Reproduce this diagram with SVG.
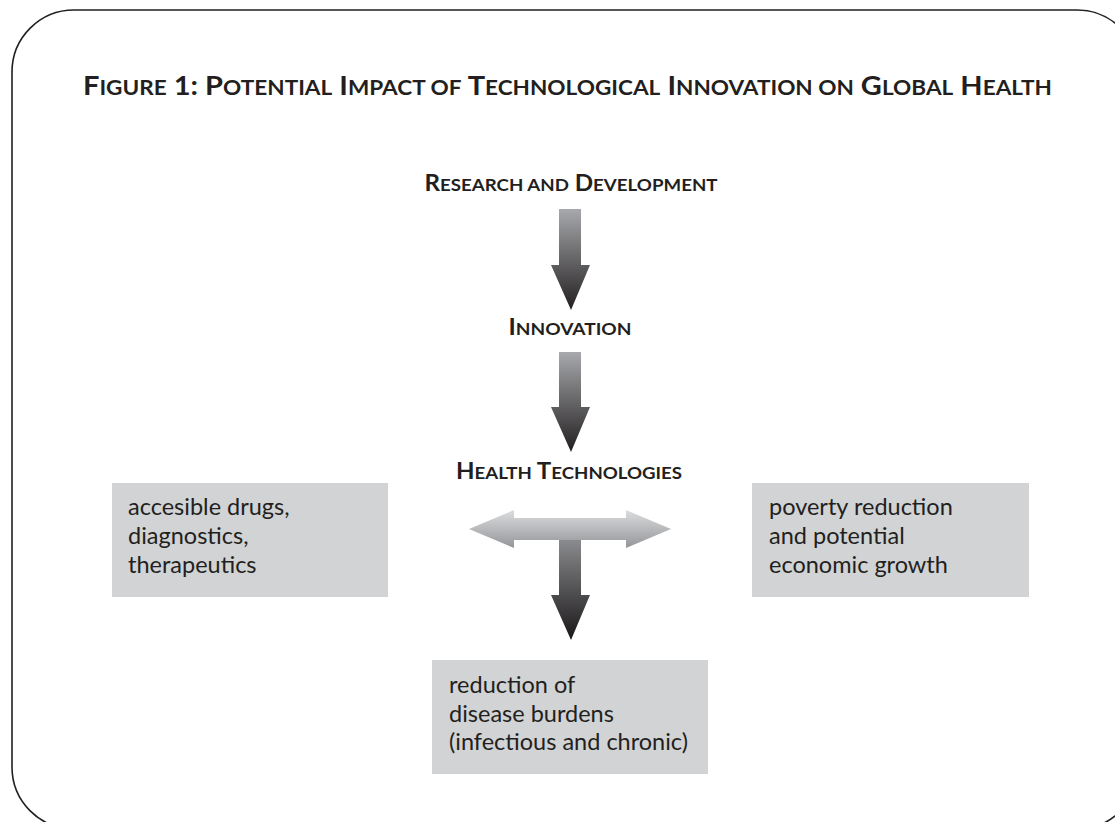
<svg xmlns="http://www.w3.org/2000/svg" width="1115" height="822" viewBox="0 0 1115 822">
<style>
.frame{fill:none;stroke:#231f20;stroke-width:1.6}
.title{font-family:Lato,"Open Sans","Liberation Sans",sans-serif;font-weight:bold;fill:#231f20;font-size:27px}
.title .s{font-size:21px}
.head{font-family:Lato,"Open Sans","Liberation Sans",sans-serif;font-weight:bold;fill:#231f20;font-size:22px}
.head .s{font-size:17px}
.box{fill:#d1d3d4}
.bt{font-family:Lato,"Open Sans","Liberation Sans",sans-serif;font-size:23.5px;fill:#231f20}
</style>
<defs>
<linearGradient id="gv" x1="0" y1="0" x2="0" y2="1">
<stop offset="0" stop-color="#a7a9ac"/>
<stop offset="1" stop-color="#231f20"/>
</linearGradient>
<linearGradient id="gh" x1="0" y1="0" x2="0" y2="1">
<stop offset="0" stop-color="#dcdddf"/>
<stop offset="1" stop-color="#939598"/>
</linearGradient>
<linearGradient id="gs" gradientUnits="userSpaceOnUse" x1="0" y1="540" x2="0" y2="640">
<stop offset="0" stop-color="#8a8b8e"/>
<stop offset="1" stop-color="#1a1718"/>
</linearGradient>
</defs>
<rect class="frame" x="12" y="10" width="1127" height="819" rx="62" ry="62"/>
<text class="title" x="83" y="95" textLength="969" lengthAdjust="spacingAndGlyphs">F<tspan class="s">IGURE</tspan> 1: P<tspan class="s">OTENTIAL</tspan> I<tspan class="s">MPACT OF</tspan> T<tspan class="s">ECHNOLOGICAL</tspan> I<tspan class="s">NNOVATION ON</tspan> G<tspan class="s">LOBAL</tspan> H<tspan class="s">EALTH</tspan></text>

<g id="connectors">
<path d="M559 209 H581 V265 H590 L571 310 L551 265 H559 Z" fill="url(#gv)"/>
<path d="M559 352 H581 V407 H590 L571 452 L551 407 H559 Z" fill="url(#gv)"/>
<path d="M469 529 L514 510 V518 H626 V510 L671 529 L626 548 V540 H514 V548 Z" fill="url(#gh)"/>
<path d="M559 540 H581 V595 H590 L571 640 L551 595 H559 Z" fill="url(#gs)"/>
</g>

<g id="rd"><text class="head" x="571" y="191" text-anchor="middle" textLength="293" lengthAdjust="spacingAndGlyphs">R<tspan class="s">ESEARCH AND</tspan> D<tspan class="s">EVELOPMENT</tspan></text></g>
<g id="innovation"><text class="head" x="570" y="335" text-anchor="middle" textLength="123" lengthAdjust="spacingAndGlyphs">I<tspan class="s">NNOVATION</tspan></text></g>
<g id="health"><text class="head" x="569" y="479" text-anchor="middle" textLength="226" lengthAdjust="spacingAndGlyphs">H<tspan class="s">EALTH</tspan> T<tspan class="s">ECHNOLOGIES</tspan></text></g>

<g id="drugs">
<rect class="box" x="112" y="483" width="276" height="114"/>
<text class="bt" x="128" y="515">accesible drugs,</text>
<text class="bt" x="128" y="544">diagnostics,</text>
<text class="bt" x="128" y="573">therapeutics</text>
</g>
<g id="poverty">
<rect class="box" x="752" y="483" width="277" height="114"/>
<text class="bt" x="769" y="515">poverty reduction</text>
<text class="bt" x="769" y="544">and potential</text>
<text class="bt" x="769" y="573">economic growth</text>
</g>
<g id="disease">
<rect class="box" x="432" y="660" width="276" height="114"/>
<text class="bt" x="449" y="693">reduction of</text>
<text class="bt" x="449" y="722">disease burdens</text>
<text class="bt" x="449" y="750">(infectious and chronic)</text>
</g>
</svg>
